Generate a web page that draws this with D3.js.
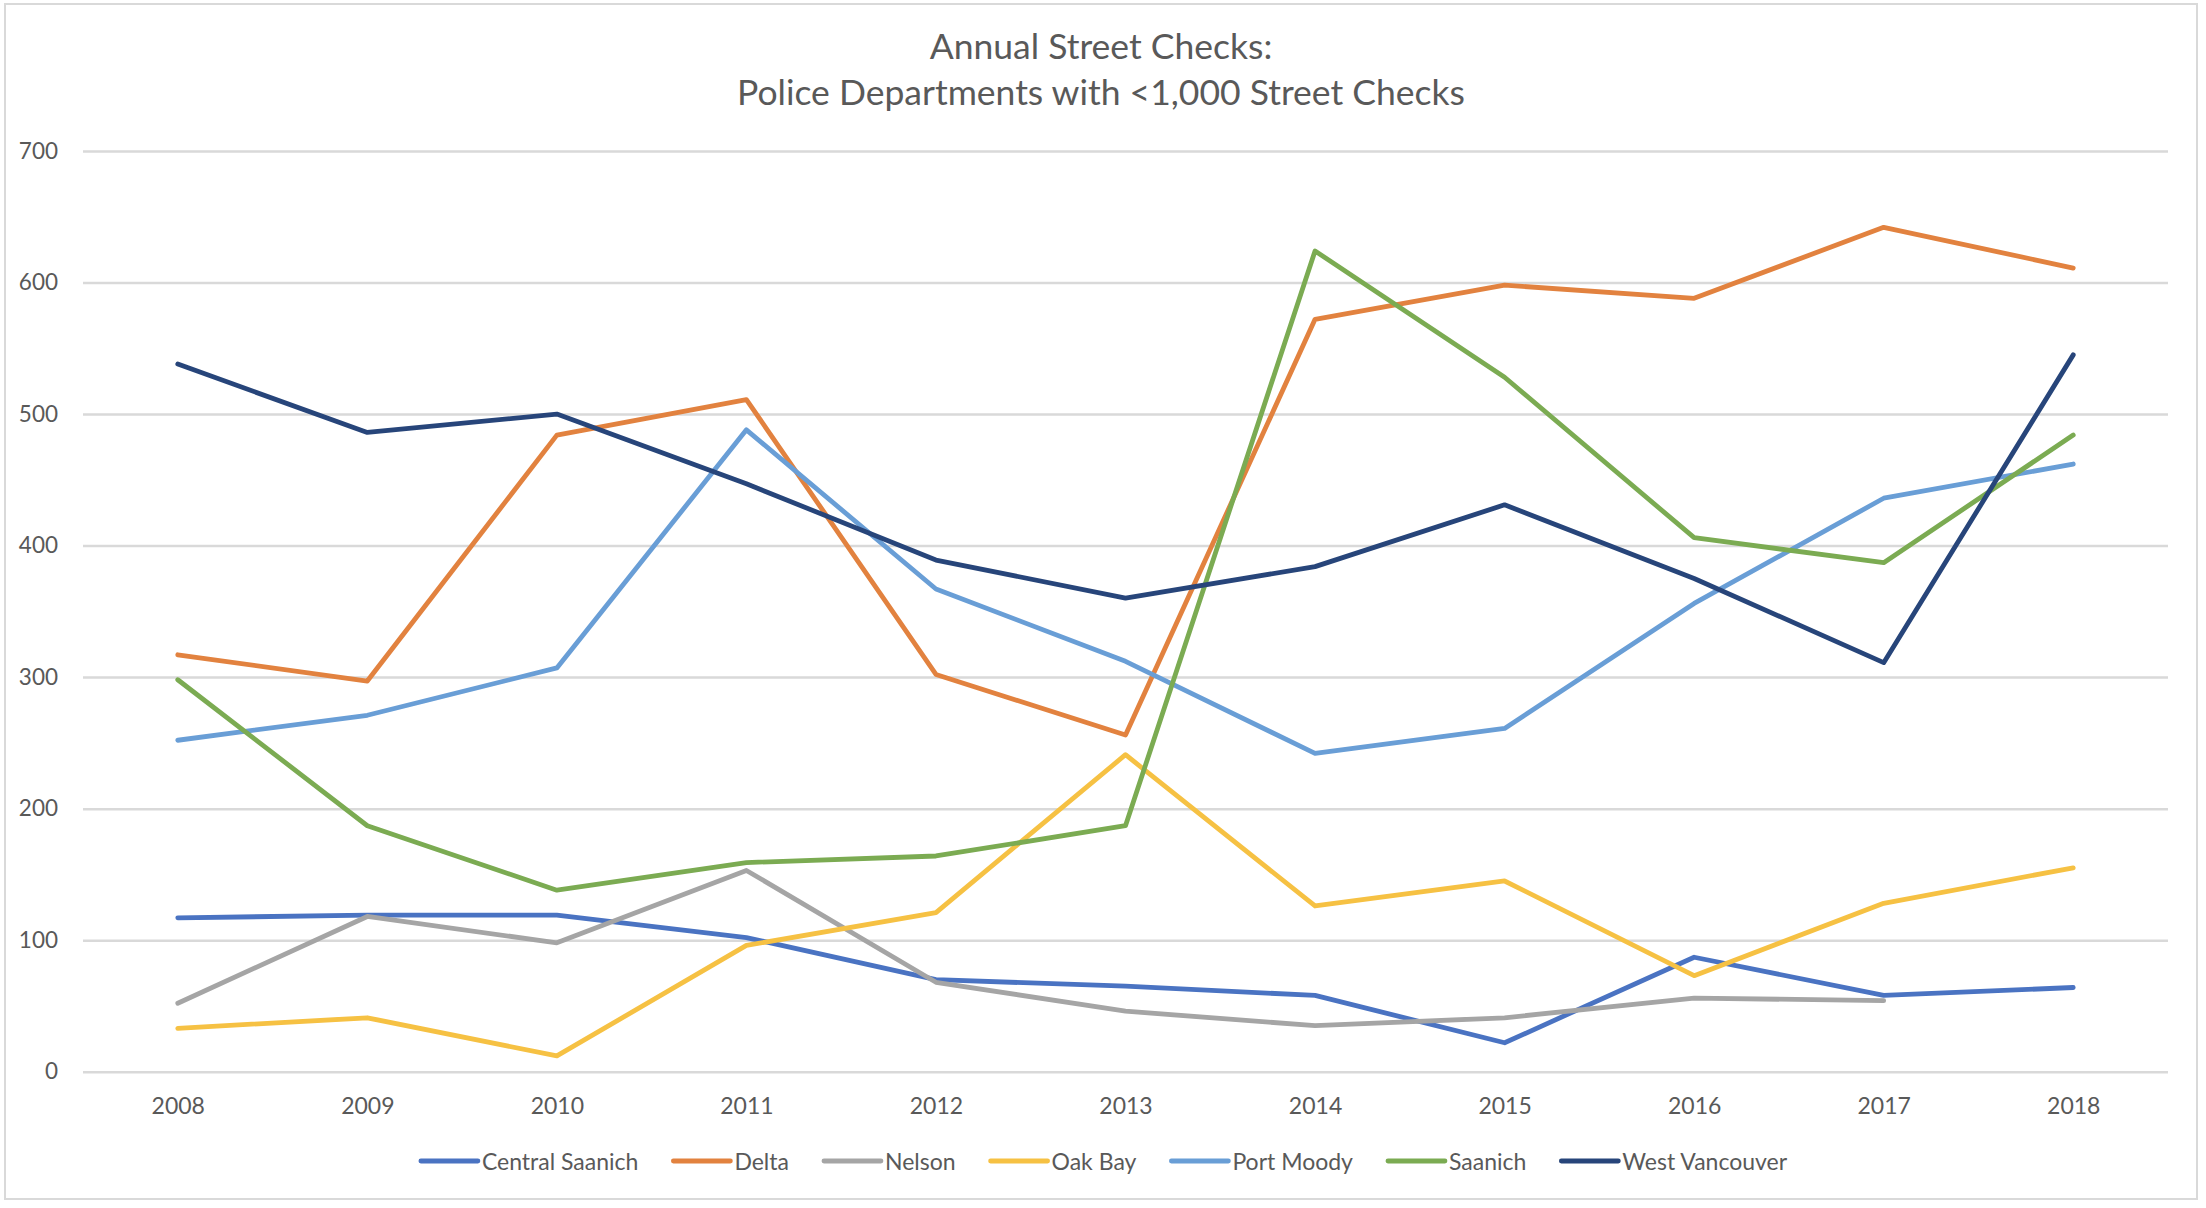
<!DOCTYPE html>
<html>
<head>
<meta charset="utf-8">
<script src="https://cdn.jsdelivr.net/npm/d3@7"></script>
<style>
  html, body { margin: 0; padding: 0; background: #ffffff; }
  svg { display: block; }
</style>
</head>
<body>
<script>
// ---- data ----
const years = ["2008","2009","2010","2011","2012","2013","2014","2015","2016","2017","2018"];
const seriesNames = ["Central Saanich","Delta","Nelson","Oak Bay","Port Moody","Saanich","West Vancouver"];
const centralSaanich = [117, 119, 119, 102, 70, 65, 58, 22, 87, 58, 64];
const delta          = [317, 297, 484, 511, 302, 256, 572, 598, 588, 642, 611];
const nelson         = [52, 118, 98, 153, 68, 46, 35, 41, 56, 54, null];
const oakBay         = [33, 41, 12, 96, 121, 241, 126, 145, 73, 128, 155];
const portMoody      = [252, 271, 307, 488, 367, 312, 242, 261, 356, 436, 462];
const saanich        = [298, 187, 138, 159, 164, 187, 624, 528, 406, 387, 484];
const westVancouver  = [538, 486, 500, 447, 389, 360, 384, 431, 375, 311, 545];
const yTicks = [0, 100, 200, 300, 400, 500, 600, 700];
const titleLines = ["Annual Street Checks:", "Police Departments with <1,000 Street Checks"];
const seriesValues = [centralSaanich, delta, nelson, oakBay, portMoody, saanich, westVancouver];
const colors = ["#4A73C2", "#E2823F", "#A5A5A5", "#F6C143", "#699ED6", "#7BAB52", "#27457A"];

// ---- layout ----
const W = 2206, H = 1208;
const font = "Lato, 'Open Sans', sans-serif";
const textColor = "#595959";

const svg = d3.select("body").append("svg").attr("width", W).attr("height", H);

svg.append("rect").attr("x", 0).attr("y", 0).attr("width", W).attr("height", H).attr("fill", "#fff");
svg.append("rect").attr("x", 5).attr("y", 4).attr("width", 2192).attr("height", 1195)
  .attr("fill", "none").attr("stroke", "#D9D9D9").attr("stroke-width", 2);

const x = d3.scalePoint().domain(years).range([83, 2168]).padding(0.5);
const y = d3.scaleLinear().domain([0, 700]).range([1071.7, 151]);

// title
svg.append("g").selectAll("text").data(titleLines).join("text")
  .attr("x", 1101).attr("y", (d, i) => 59 + i * 46)
  .attr("text-anchor", "middle")
  .attr("font-family", font).attr("font-size", 35.5)
  .attr("fill", textColor)
  .text(d => d);

// gridlines
const grid = d3.axisLeft(y).tickValues(yTicks).tickSize(-(2168 - 83)).tickFormat("");
const gg = svg.append("g").attr("transform", "translate(83,0)").call(grid);
gg.select(".domain").remove();
gg.selectAll("line").attr("stroke", "#D9D9D9").attr("stroke-width", 2.5);

// y axis labels
const ya = svg.append("g").attr("transform", "translate(58,0)")
  .call(d3.axisLeft(y).tickValues(yTicks).tickSize(0).tickPadding(0).tickFormat(d3.format("d")));
ya.select(".domain").remove();
ya.selectAll("text").attr("font-family", font).attr("font-size", 22.5).attr("fill", textColor)
  .attr("text-anchor", "end");

// x axis labels
const xa = svg.append("g").attr("transform", "translate(0,1098)")
  .call(d3.axisBottom(x).tickSize(0).tickPadding(0));
xa.select(".domain").remove();
xa.selectAll("text").attr("font-family", font).attr("font-size", 23).attr("fill", textColor);

// lines
const line = d3.line()
  .defined(d => d.v !== null)
  .x(d => x(d.year))
  .y(d => y(d.v));

const linesG = svg.append("g");
seriesValues.forEach((vals, i) => {
  const pts = years.map((yr, j) => ({ year: yr, v: vals[j] }));
  linesG.append("path")
    .datum(pts)
    .attr("d", line)
    .attr("fill", "none")
    .attr("stroke", colors[i])
    .attr("stroke-width", 4.8)
    .attr("stroke-linejoin", "round")
    .attr("stroke-linecap", "round");
});

// legend
const legend = svg.append("g");
let cx = 0;
const swatch = 57, swGap = 4, itemGap = 35;
seriesNames.forEach((name, i) => {
  const g = legend.append("g");
  g.append("line").attr("x1", 0).attr("x2", swatch).attr("y1", 0).attr("y2", 0)
    .attr("stroke", colors[i]).attr("stroke-width", 4.8).attr("stroke-linecap", "round");
  const t = g.append("text").attr("x", swatch + swGap).attr("y", 8.5)
    .attr("font-family", font).attr("font-size", 23).attr("fill", textColor).text(name);
  const w = t.node().getComputedTextLength();
  g.attr("transform", `translate(${cx},0)`);
  cx += swatch + swGap + w + itemGap;
});
const totalW = cx - itemGap;
legend.attr("transform", `translate(${1104 - totalW / 2},1161)`);
</script>
</body>
</html>
